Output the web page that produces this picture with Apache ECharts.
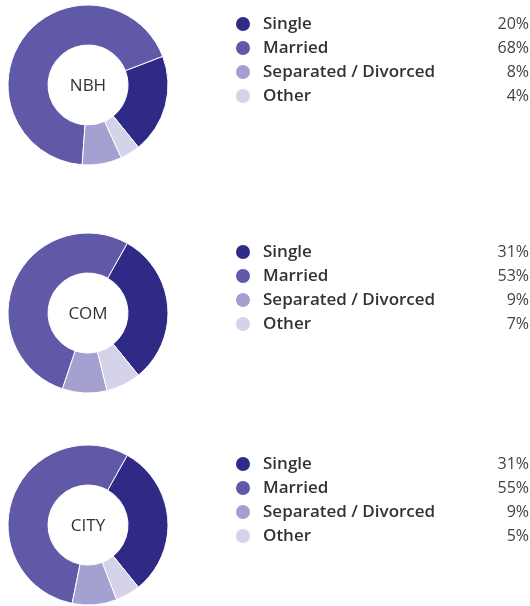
<!DOCTYPE html>
<html>
<head>
<meta charset="utf-8">
<script src="https://cdn.jsdelivr.net/npm/echarts@6/dist/echarts.min.js"></script>
<style>
  html, body { margin: 0; padding: 0; background: #fff; }
  #chart { width: 530px; height: 606px; }
</style>
</head>
<body>
<div id="chart"></div>
<script>
  const categories = ["Single", "Married", "Separated / Divorced", "Other"];
  const areas = ["NBH", "COM", "CITY"];
  const nbhValues = [20, 68, 8, 4];
  const comValues = [31, 53, 9, 7];
  const cityValues = [31, 55, 9, 5];
  const areaValues = [nbhValues, comValues, cityValues];

  const colors = ["#2f2a86", "#5f59a7", "#a4a0d0", "#d5d3ea"];
  const centersY = [85, 313, 525];
  const fontFamily = "'Open Sans', 'Noto Sans', sans-serif";

  const chart = echarts.init(document.getElementById("chart"));

  const series = areas.map((area, i) => ({
    name: area,
    type: "pie",
    center: [88, centersY[i]],
    radius: [40, 80],
    startAngle: -51,
    clockwise: false,
    silent: true,
    label: { show: false },
    labelLine: { show: false },
    itemStyle: { borderColor: "#fff", borderWidth: 1 },
    emphasis: { disabled: true },
    data: categories.map((c, j) => ({ name: c, value: areaValues[i][j] }))
  }));

  const legends = areas.map((area, i) => ({
    orient: "vertical",
    left: 234,
    top: centersY[i] - 70,
    padding: 0,
    itemWidth: 16,
    itemHeight: 16,
    itemGap: 6,
    icon: "circle",
    selectedMode: false,
    data: categories,
    formatter: (name) => "{n|" + name + "}{p|" + areaValues[i][categories.indexOf(name)] + "%}",
    textStyle: {
      padding: [0, 0, 0, 7],
      rich: {
        n: { width: 228, fontSize: 17, fontWeight: 600, color: "#333", fontFamily, lineHeight: 16 },
        p: { width: 38, align: "right", fontSize: 16, color: "#444", fontFamily, lineHeight: 16 }
      }
    }
  }));

  const labels = areas.map((area, i) => ({
    type: "text",
    x: 88,
    y: centersY[i] + 1,
    silent: true,
    style: {
      text: area,
      align: "center",
      verticalAlign: "middle",
      fontSize: 17,
      fontFamily,
      fill: "#333"
    }
  }));

  chart.setOption({
    color: colors,
    animation: false,
    legend: legends,
    graphic: labels,
    series: series
  });
</script>
</body>
</html>
